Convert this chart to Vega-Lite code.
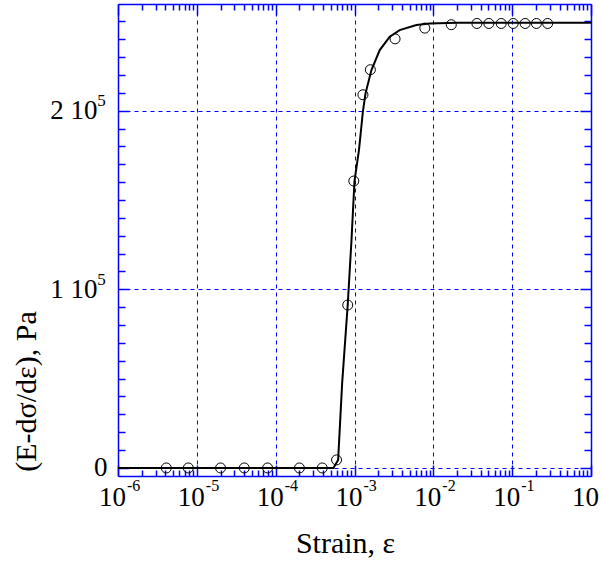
{
  "$schema": "https://vega.github.io/schema/vega-lite/v6.json",
  "width": 473,
  "height": 472,
  "autosize": {"type": "none"},
  "padding": {"left": 118, "top": 4, "right": 11, "bottom": 88},
  "background": "white",
  "datasets": {
    "curve": [
      {"strain": 1e-6, "val": 0},
      {"strain": 5.4e-4, "val": 0},
      {"strain": 6.2e-4, "val": 4500},
      {"strain": 6.97e-4, "val": 47400},
      {"strain": 8.2e-4, "val": 91200},
      {"strain": 9.16e-4, "val": 127600},
      {"strain": 1.0e-3, "val": 160600},
      {"strain": 1.14e-3, "val": 178000},
      {"strain": 1.28e-3, "val": 199800},
      {"strain": 1.38e-3, "val": 209700},
      {"strain": 1.64e-3, "val": 222700},
      {"strain": 2.09e-3, "val": 233900},
      {"strain": 2.8e-3, "val": 241400},
      {"strain": 3.74e-3, "val": 245100},
      {"strain": 6.09e-3, "val": 247900},
      {"strain": 9.0e-3, "val": 248800},
      {"strain": 2.0e-2, "val": 249200},
      {"strain": 1, "val": 249200}
    ],
    "pts": [
      {"strain": 4.1e-6, "val": 0},
      {"strain": 7.8e-6, "val": 0},
      {"strain": 2.0e-5, "val": 0},
      {"strain": 4.0e-5, "val": 0},
      {"strain": 7.9e-5, "val": 0},
      {"strain": 2.0e-4, "val": 0},
      {"strain": 3.9e-4, "val": 0},
      {"strain": 5.92e-4, "val": 4500},
      {"strain": 8.2e-4, "val": 91200},
      {"strain": 9.8e-4, "val": 160600},
      {"strain": 1.28e-3, "val": 208900},
      {"strain": 1.59e-3, "val": 222900},
      {"strain": 3.27e-3, "val": 240200},
      {"strain": 7.8e-3, "val": 246200},
      {"strain": 1.69e-2, "val": 248100},
      {"strain": 3.57e-2, "val": 248800},
      {"strain": 5.06e-2, "val": 248800},
      {"strain": 7.26e-2, "val": 248800},
      {"strain": 1.03e-1, "val": 248800},
      {"strain": 1.46e-1, "val": 248800},
      {"strain": 2.03e-1, "val": 248800},
      {"strain": 2.82e-1, "val": 248800}
    ]
  },
  "config": {
    "view": {"stroke": null},
    "axis": {
      "labelFont": "Liberation Serif",
      "titleFont": "Liberation Serif",
      "labelColor": "black",
      "titleColor": "black",
      "titleFontWeight": "normal",
      "domainColor": "#0000ff",
      "tickColor": "#0000ff",
      "gridColor": "#0000ff",
      "domainWidth": 1.5,
      "tickWidth": 1.5,
      "gridWidth": 1,
      "gridDash": [4, 4],
      "labelFlush": false,
      "labelOverlap": false,
      "labelBound": false
    }
  },
  "resolve": {"axis": {"x": "independent", "y": "independent"}},
  "layer": [
    {
      "data": {"name": "curve"},
      "mark": {"type": "line", "color": "black", "strokeWidth": 2},
      "encoding": {
        "x": {
          "field": "strain", "type": "quantitative",
          "scale": {"type": "log", "domain": [1e-6, 1], "nice": false},
          "axis": {
            "orient": "bottom",
            "values": [1e-6, 1e-5, 1e-4, 1e-3, 1e-2, 1e-1, 1],
            "labelExpr": "'10'",
            "labelFontSize": 27,
            "labelAlign": "center",
            "labelBaseline": "alphabetic",
            "labelOffset": -6,
            "labelPadding": 40,
            "tickSize": -11,
            "grid": true,
            "title": "Strain, ε",
            "titleFontSize": 30,
            "titleX": 227,
            "titleY": 76,
            "titleAlign": "center",
            "titleBaseline": "alphabetic"
          }
        },
        "y": {
          "field": "val", "type": "quantitative",
          "scale": {"domain": [-4500, 259700], "nice": false, "zero": false},
          "axis": {
            "orient": "left",
            "values": [0, 100000, 200000],
            "labelExpr": "datum.value == 0 ? '0' : (datum.value == 100000 ? '1 10' : '2 10')",
            "labelFontSize": 27,
            "labelAlign": "right",
            "labelBaseline": "middle",
            "labelPadding": {"condition": {"test": "datum.value == 0", "value": 22}, "value": 32},
            "tickSize": -11,
            "grid": true,
            "title": "(E-dσ/dε), Pa",
            "titleFontSize": 30,
            "titleAngle": -90,
            "titleX": -83,
            "titleY": 387,
            "titleAlign": "center",
            "titleBaseline": "alphabetic"
          }
        }
      }
    },
    {
      "data": {"name": "pts"},
      "mark": {"type": "point", "shape": "circle", "filled": false, "stroke": "black", "strokeWidth": 1, "size": 100, "opacity": 1},
      "encoding": {
        "x": {
          "field": "strain", "type": "quantitative",
          "scale": {"type": "log", "domain": [1e-6, 1], "nice": false},
          "axis": {
            "orient": "bottom",
            "values": [1e-6, 1e-5, 1e-4, 1e-3, 1e-2, 1e-1, 1],
            "labelExpr": "datum.value >= 0.5 ? '' : '-' + round(-log(datum.value) / LN10)",
            "labelFontSize": 16,
            "labelAlign": "left",
            "labelBaseline": "alphabetic",
            "labelOffset": 8.5,
            "labelPadding": 14,
            "ticks": false,
            "domain": false,
            "grid": false,
            "title": null
          }
        },
        "y": {
          "field": "val", "type": "quantitative",
          "scale": {"domain": [-4500, 259700], "nice": false, "zero": false},
          "axis": {
            "orient": "left",
            "values": [100000, 200000],
            "labelExpr": "'5'",
            "labelFontSize": 17,
            "labelAlign": "left",
            "labelBaseline": "middle",
            "labelOffset": -10,
            "labelPadding": 21.3,
            "ticks": false,
            "domain": false,
            "grid": false,
            "title": null
          }
        }
      }
    },
    {
      "data": {"name": "pts"},
      "mark": {"type": "point", "opacity": 0},
      "encoding": {
        "x": {
          "field": "strain", "type": "quantitative",
          "scale": {"type": "log", "domain": [1e-6, 1], "nice": false},
          "axis": {
            "orient": "bottom",
            "values": [2e-6, 3e-6, 4e-6, 5e-6, 6e-6, 7e-6, 8e-6, 9e-6, 2e-5, 3e-5, 4e-5, 5e-5, 6e-5, 7e-5, 8e-5, 9e-5, 2e-4, 3e-4, 4e-4, 5e-4, 6e-4, 7e-4, 8e-4, 9e-4, 2e-3, 3e-3, 4e-3, 5e-3, 6e-3, 7e-3, 8e-3, 9e-3, 2e-2, 3e-2, 4e-2, 5e-2, 6e-2, 7e-2, 8e-2, 9e-2, 0.2, 0.3, 0.4, 0.5, 0.6, 0.7, 0.8, 0.9],
            "labels": false,
            "tickSize": -6,
            "domain": false,
            "grid": false,
            "title": null
          }
        },
        "y": {
          "field": "val", "type": "quantitative",
          "scale": {"domain": [-4500, 259700], "nice": false, "zero": false},
          "axis": {
            "orient": "left",
            "values": [10000, 20000, 30000, 40000, 50000, 60000, 70000, 80000, 90000, 110000, 120000, 130000, 140000, 150000, 160000, 170000, 180000, 190000, 210000, 220000, 230000, 240000, 250000],
            "labels": false,
            "tickSize": -7,
            "domain": false,
            "grid": false,
            "title": null
          }
        }
      }
    },
    {
      "data": {"name": "pts"},
      "mark": {"type": "point", "opacity": 0},
      "encoding": {
        "x": {
          "field": "strain", "type": "quantitative",
          "scale": {"type": "log", "domain": [1e-6, 1], "nice": false},
          "axis": {
            "orient": "top",
            "values": [1e-6, 1e-5, 1e-4, 1e-3, 1e-2, 1e-1, 1],
            "labels": false,
            "tickSize": -11,
            "domain": true,
            "grid": false,
            "title": null
          }
        },
        "y": {
          "field": "val", "type": "quantitative",
          "scale": {"domain": [-4500, 259700], "nice": false, "zero": false},
          "axis": {
            "orient": "right",
            "values": [0, 100000, 200000],
            "labels": false,
            "tickSize": -11,
            "domain": true,
            "grid": false,
            "title": null
          }
        }
      }
    },
    {
      "data": {"name": "pts"},
      "mark": {"type": "point", "opacity": 0},
      "encoding": {
        "x": {
          "field": "strain", "type": "quantitative",
          "scale": {"type": "log", "domain": [1e-6, 1], "nice": false},
          "axis": {
            "orient": "top",
            "values": [2e-6, 3e-6, 4e-6, 5e-6, 6e-6, 7e-6, 8e-6, 9e-6, 2e-5, 3e-5, 4e-5, 5e-5, 6e-5, 7e-5, 8e-5, 9e-5, 2e-4, 3e-4, 4e-4, 5e-4, 6e-4, 7e-4, 8e-4, 9e-4, 2e-3, 3e-3, 4e-3, 5e-3, 6e-3, 7e-3, 8e-3, 9e-3, 2e-2, 3e-2, 4e-2, 5e-2, 6e-2, 7e-2, 8e-2, 9e-2, 0.2, 0.3, 0.4, 0.5, 0.6, 0.7, 0.8, 0.9],
            "labels": false,
            "tickSize": -6,
            "domain": false,
            "grid": false,
            "title": null
          }
        },
        "y": {
          "field": "val", "type": "quantitative",
          "scale": {"domain": [-4500, 259700], "nice": false, "zero": false},
          "axis": {
            "orient": "right",
            "values": [10000, 20000, 30000, 40000, 50000, 60000, 70000, 80000, 90000, 110000, 120000, 130000, 140000, 150000, 160000, 170000, 180000, 190000, 210000, 220000, 230000, 240000, 250000],
            "labels": false,
            "tickSize": -7,
            "domain": false,
            "grid": false,
            "title": null
          }
        }
      }
    }
  ]
}
